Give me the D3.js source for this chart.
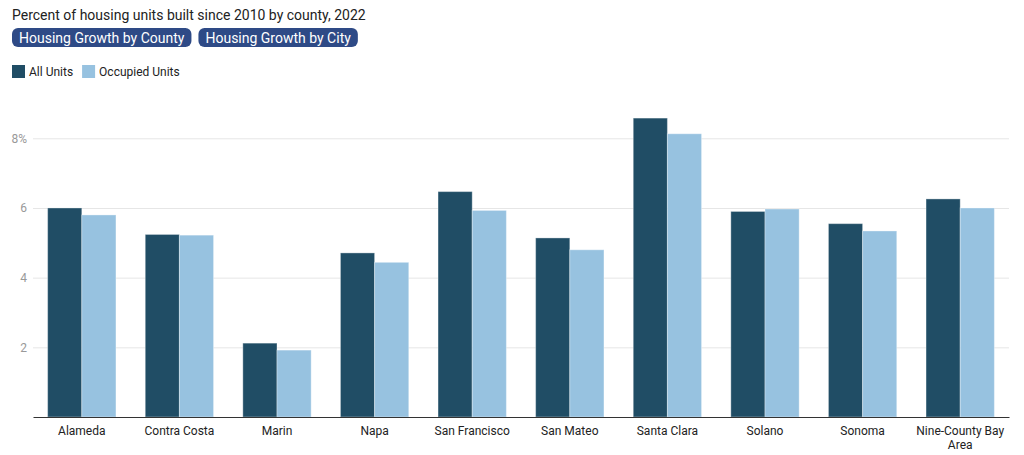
<!DOCTYPE html>
<html>
<head>
<meta charset="utf-8">
<script src="https://cdn.jsdelivr.net/npm/d3@7"></script>
<style>
  body { margin: 0; background: #fff; font-family: Roboto, "Noto Sans", sans-serif; }
</style>
</head>
<body>
<div id="chart"></div>
<script>
var width = 1024;
var height = 455;

var counties = ["Alameda", "Contra Costa", "Marin", "Napa", "San Francisco", "San Mateo",
                "Santa Clara", "Solano", "Sonoma", "Nine-County Bay Area"];
var allUnits = [6.0, 5.24, 2.12, 4.71, 6.47, 5.14, 8.58, 5.90, 5.55, 6.26];
var occupiedUnits = [5.8, 5.22, 1.92, 4.44, 5.93, 4.80, 8.13, 5.97, 5.34, 6.00];
var seriesNames = ["All Units", "Occupied Units"];
var seriesColors = ["#204d65", "#97c2e0"];
var yTicks = [2, 4, 6, 8];
var buttons = ["Housing Growth by County", "Housing Growth by City"];

var margin = {left: 33, right: 15, top: 100, bottom: 38};

var svg = d3.select("#chart").append("svg")
            .attr("width", width)
            .attr("height", height);

// Titulo
svg.append("text")
   .attr("x", 12)
   .attr("y", 20)
   .attr("font-size", 14)
   .attr("fill", "#222")
   .text("Percent of housing units built since 2010 by county, 2022");

// Botones
var bx = 12;
buttons.forEach(function(b) {
  var g = svg.append("g");
  var t = g.append("text")
           .attr("x", bx + 7)
           .attr("y", 42.5)
           .attr("font-size", 14)
           .attr("fill", "#fff")
           .text(b);
  var w = t.node().getComputedTextLength() + 14;
  g.insert("rect", "text")
   .attr("x", bx)
   .attr("y", 28)
   .attr("width", w)
   .attr("height", 19)
   .attr("rx", 6)
   .attr("fill", "#2e4a86");
  bx += w + 7;
});

// Leyenda
var lx = 12;
seriesNames.forEach(function(s, i) {
  svg.append("rect")
     .attr("x", lx).attr("y", 65)
     .attr("width", 13).attr("height", 13)
     .attr("fill", seriesColors[i]);
  var t = svg.append("text")
     .attr("x", lx + 17).attr("y", 76)
     .attr("font-size", 12)
     .attr("fill", "#222")
     .text(s);
  lx += 17 + t.node().getComputedTextLength() + 9;
});

var x0 = d3.scaleBand()
           .domain(counties)
           .range([margin.left, width - margin.right])
           .paddingInner(0.3)
           .paddingOuter(0.15);

var x1 = d3.scaleBand()
           .domain(seriesNames)
           .range([0, x0.bandwidth()]);

var y = d3.scaleLinear()
          .domain([0, 8])
          .range([height - margin.bottom, 138.3]);

// Lineas de grilla
var grid = svg.append("g")
              .attr("transform", "translate(" + margin.left + ",0)")
              .call(d3.axisLeft(y).tickValues(yTicks)
                      .tickSize(-(width - margin.left - margin.right))
                      .tickFormat(function(d) { return d === 8 ? d + "%" : d; }));
grid.select(".domain").remove();
grid.selectAll(".tick line").attr("stroke", "#e6e6e6");
grid.selectAll(".tick text")
    .attr("x", -6)
    .attr("font-family", "Roboto, sans-serif")
    .attr("font-size", 12)
    .attr("fill", "#999");

// Barras
var data = counties.map(function(c, i) {
  return {county: c, values: [allUnits[i], occupiedUnits[i]]};
});

var groups = svg.append("g").selectAll("g")
                .data(data).enter().append("g")
                .attr("transform", function(d) { return "translate(" + x0(d.county) + ",0)"; });

groups.selectAll("rect")
      .data(function(d) { return d.values.map(function(v, i) { return {s: seriesNames[i], v: v, i: i}; }); })
      .enter().append("rect")
      .attr("x", function(d) { return x1(d.s); })
      .attr("y", function(d) { return y(d.v); })
      .attr("width", x1.bandwidth())
      .attr("height", function(d) { return y(0) - y(d.v); })
      .attr("fill", function(d) { return seriesColors[d.i]; })
      .attr("stroke", "rgba(255,255,255,0.35)")
      .attr("stroke-width", 1);

// Eje X
var xAxis = svg.append("g")
               .attr("transform", "translate(0," + y(0) + ")")
               .call(d3.axisBottom(x0).tickSize(0).tickPadding(9));
xAxis.select(".domain").attr("stroke", "#333").attr("stroke-width", 1.2);
xAxis.selectAll(".tick text")
     .attr("font-family", "Roboto, sans-serif")
     .attr("font-size", 12)
     .attr("fill", "#222")
     .each(function(d) {
       if (d === "Nine-County Bay Area") {
         var t = d3.select(this);
         t.text(null);
         t.append("tspan").attr("x", 0).attr("dy", "0.71em").text("Nine-County Bay");
         t.append("tspan").attr("x", 0).attr("dy", "1.2em").text("Area");
       }
     });
</script>
</body>
</html>
